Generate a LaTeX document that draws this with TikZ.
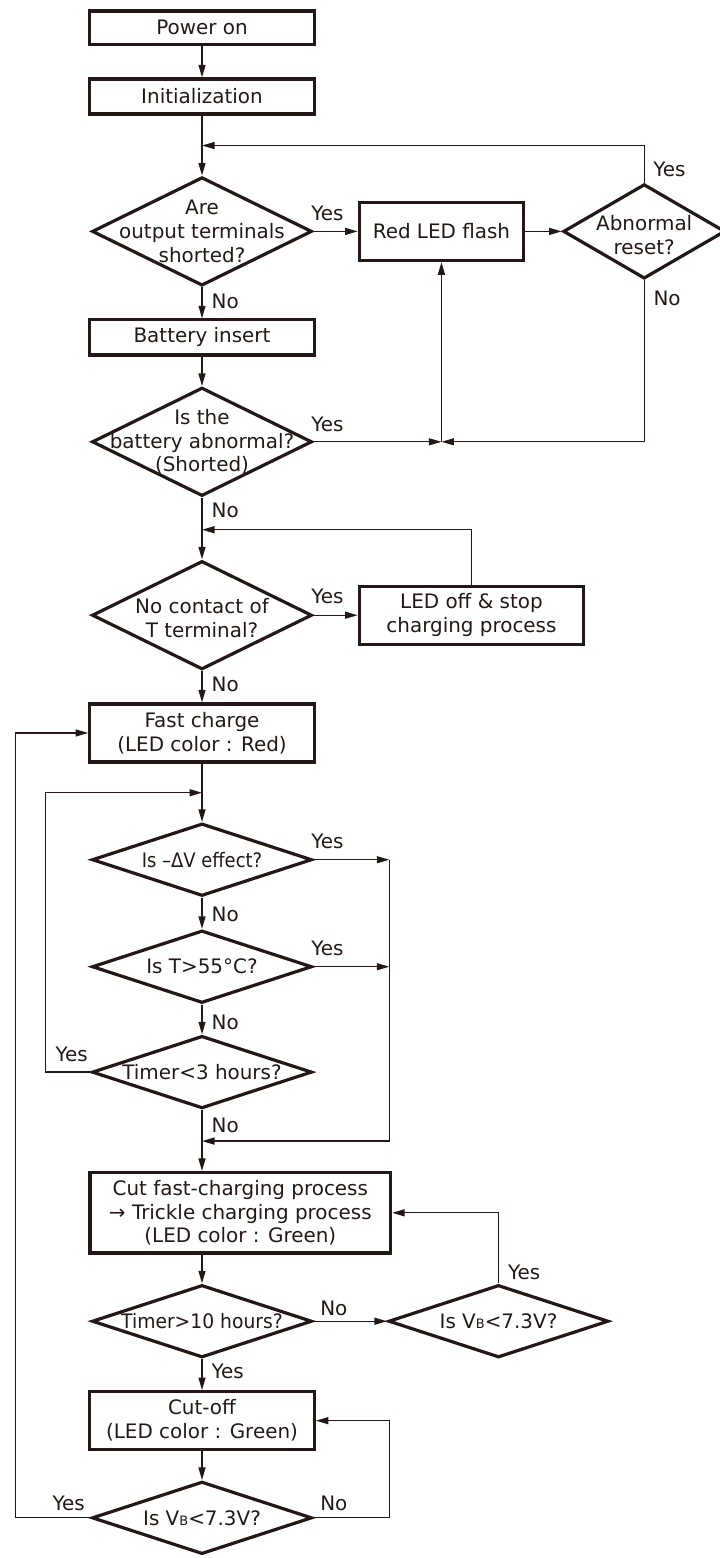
\documentclass[tikz,border=0pt]{standalone}
\usepackage{fontspec}
\setmainfont{DejaVu Sans}
\usepackage{tikz}
\usetikzlibrary{arrows.meta}
\usetikzlibrary{calc}
\usetikzlibrary{shapes.geometric,positioning}
\definecolor{ink}{HTML}{231815}
\tikzset{font={\fontsize{20pt}{24pt}\selectfont}}
\newcommand{\subB}{{\fontsize{13pt}{13pt}\selectfont B}}
\newcommand{\narrow}[2]{\scalebox{#1}[1]{#2}}

\begin{document}
\begin{tikzpicture}[x=1bp, y=-1bp, color=ink,
  box/.style={draw=ink, line width=3.2bp, minimum width=224.5bp, minimum height=35bp, inner sep=2bp, align=center},
  tallbox/.style={box, minimum height=58bp},
  decision/.style={diamond, draw=ink, line width=3.2bp, minimum width=220bp, minimum height=108.5bp, inner sep=0pt},
  flatdecision/.style={decision, minimum height=72.5bp},
  dtext/.style={align=center, inner sep=0pt},
  line/.style={draw=ink, line width=1.3bp},
  arr/.style={line, -{Triangle[length=12.5bp,width=7bp]}},
  lbl/.style={anchor=west, inner sep=0pt},
  lbll/.style={anchor=east, inner sep=0pt}]
  \useasboundingbox (0,0) rectangle (720,1558);

  % Define nodes
  \node[box, minimum height=33.5bp] (power) at (202,27.7) {Power on};
  \node[box, below=31.3bp of power] (init) {Initialization};
  \node[decision, below=60bp of init, label={[dtext]center:Are\\output terminals\\shorted?}] (short) {};
  \node[box, minimum width=164.5bp, minimum height=58.5bp, right=44bp of short] (red) {Red LED flash};
  \node[decision, minimum width=162bp, minimum height=94.5bp, right=36.3bp of red, label={[dtext, yshift=-4bp]center:Abnormal\\reset?}] (abnorm) {};
  \node[box, minimum height=35.2bp, below=31bp of short] (battery) {Battery insert};
  \node[decision, below=29.3bp of battery, label={[dtext]center:Is the\\battery abnormal?\\(Shorted)}] (batt) {};
  \node[decision, below=61.7bp of batt, label={[dtext, yshift=-3bp]center:No contact of\\T terminal?}] (contact) {};
  \node[tallbox, right=44bp of contact] (ledoff) {LED off \& stop\\charging process};
  \node[tallbox, below=31.3bp of contact] (fast) {Fast charge\\(LED color : Red)};
  \node[flatdecision, below=58.3bp of fast, label={[dtext]center:\narrow{0.9}{Is –ΔV effect?}}] (dv) {};
  \node[flatdecision, below=31.3bp of dv, label={[dtext]center:Is T>55°C?}] (temp) {};
  \node[flatdecision, below=29.7bp of temp, label={[dtext]center:Timer<3 hours?}] (timerA) {};
  \node[box, minimum width=300.5bp, minimum height=80.5bp, below=61bp of timerA, xshift=38.3bp] (cut)
    {Cut fast-charging process\\→ Trickle charging process\\(LED color : Green)};
  \node[flatdecision, below=28.7bp of cut, xshift=-38.3bp, label={[dtext]center:\narrow{0.94}{Timer>10 hours?}}] (timerB) {};
  \node[flatdecision, right=73.3bp of timerB, label={[dtext]center:Is V\subB<7.3V?}] (vbA) {};
  \node[tallbox, below=31bp of timerB] (cutoff) {Cut-off\\(LED color : Green)};
  \node[flatdecision, below=28.7bp of cutoff, label={[dtext]center:Is V\subB<7.3V?}] (vbB) {};

  % Junctions
  \coordinate (jA) at ($(init.south)!0.5!(short.north)$);
  \coordinate (jB) at (red.south |- batt.east);
  \coordinate (jC) at ($(batt.south)!0.52!(contact.north)$);
  \coordinate (jD) at ($(fast.south)!0.5!(dv.north)$);
  \coordinate (jE) at ($(timerA.south)!0.51!(timerA.south |- cut.north)$);
  \coordinate (rcol) at ($(dv.east)+(75.7bp,0)$);

  % Connect the nodes
  \draw[arr] (power.south) -- (init.north);
  \draw[arr] (init.south) -- (short.north);
  \draw[arr] (short.east) -- node[lbl, pos=0, xshift=-3bp, yshift=18bp] (y1) {Yes} (red.west);
  \draw[arr] (red.east) -- (abnorm.west);
  \draw[arr] (abnorm.north) |- node[lbl, pos=0, xshift=8.4bp, yshift=13.4bp] (y2) {Yes} (jA);
  \draw[arr] (short.south) -- node[lbl, pos=0, xshift=9bp, yshift=-14.4bp] (n1) {No} (battery.north);
  \draw[arr] (battery.south) -- (batt.north);
  \draw[arr] (batt.east) -- node[lbl, pos=0, xshift=-3bp, yshift=17bp] (y3) {Yes} (jB);
  \draw[arr] (abnorm.south) |- node[lbl, pos=0, xshift=8.7bp, yshift=-18bp] (n2) {No} (jB);
  \draw[arr] (jB) -- (red.south);
  \draw[arr] (batt.south) -- node[lbl, pos=0, xshift=9bp, yshift=-12.7bp] (n3) {No} (contact.north);
  \draw[arr] (ledoff.north) |- (jC);
  \draw[arr] (contact.east) -- node[lbl, pos=0, xshift=-3bp, yshift=18.7bp] (y4) {Yes} (ledoff.west);
  \draw[arr] (contact.south) -- node[lbl, pos=0, xshift=9bp, yshift=-13.3bp] (n4) {No} (fast.north);
  \draw[arr] (fast.south) -- (dv.north);
  \draw[arr] (dv.east) -- node[lbl, pos=0, xshift=-3bp, yshift=18bp] (y5) {Yes} (rcol);
  \draw[arr] (dv.south) -- node[lbl, pos=0, xshift=9bp, yshift=-16.7bp] (n5) {No} (temp.north);
  \draw[arr] (temp.east) -- node[lbl, pos=0, xshift=-3bp, yshift=18.4bp] (y6) {Yes} (temp.east -| rcol);
  \draw[arr] (temp.south) -- node[lbl, pos=0, xshift=9bp, yshift=-17.4bp] (n6) {No} (timerA.north);
  \draw[arr] (timerA.west) -- node[lbll, pos=0, xshift=-2bp, yshift=17.3bp] (y7) {Yes} ++(-45bp,0) |- (jD);
  \draw[arr] (rcol) |- (jE);
  \draw[arr] (timerA.south) -- node[lbl, pos=0, xshift=9bp, yshift=-15.3bp] (n7) {No} (timerA.south |- cut.north);
  \draw[arr] (timerB.north |- cut.south) -- (timerB.north);
  \draw[arr] (timerB.east) -- node[lbl, pos=0, xshift=6bp, yshift=13bp] (n8) {No} (vbA.west);
  \draw[arr] (vbA.north) |- node[lbl, pos=0, xshift=9bp, yshift=11.3bp] (y8) {Yes} (cut.east);
  \draw[arr] (timerB.south) -- node[lbl, pos=0, xshift=9bp, yshift=-12.7bp] (y9) {Yes} (cutoff.north);
  \draw[arr] (cutoff.south) -- (vbB.north);
  \draw[arr] (vbB.east) -- node[lbl, pos=0, xshift=6bp, yshift=14bp] (n9) {No} ++(75.7bp,0) |- (cutoff.east);
  \draw[arr] (vbB.west) -- node[lbll, pos=0, xshift=-5bp, yshift=14bp] (y10) {Yes} ++(-75bp,0) |- (fast.west);
\end{tikzpicture}
\end{document}
